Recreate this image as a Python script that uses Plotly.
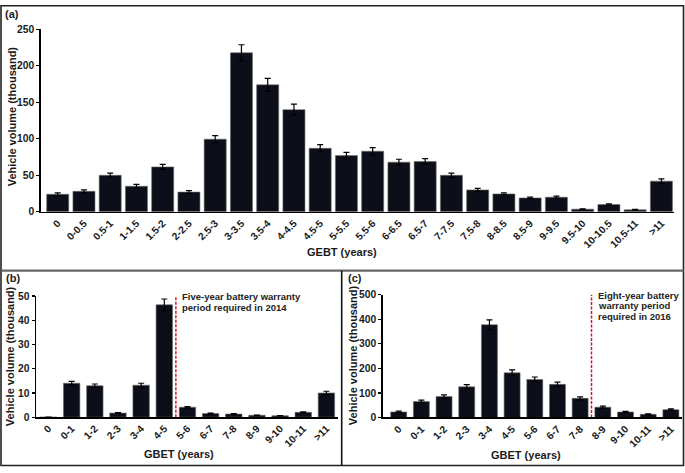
import plotly.graph_objects as go

# ---------------- data ----------------
cats_a = ["0", "0-0.5", "0.5-1", "1-1.5", "1.5-2", "2-2.5", "2.5-3", "3-3.5", "3.5-4",
          "4-4.5", "4.5-5", "5-5.5", "5.5-6", "6-6.5", "6.5-7", "7-7.5", "7.5-8",
          "8-8.5", "8.5-9", "9-9.5", "9.5-10", "10-10.5", "10.5-11", ">11"]
vals_a = [24, 28, 50, 35, 61.5, 27, 99.5, 218, 174, 140, 87, 77, 83, 68, 69, 50,
          30, 24.5, 19, 20, 3.6, 10, 2.7, 42]
err_a = [2, 2, 3, 2.5, 3.5, 2, 5, 11, 9, 7.5, 5, 4.5, 5, 4, 4, 3, 2, 1.5, 1, 1.5,
         0.5, 1, 0.5, 3]

cats_b = ["0", "0-1", "1-2", "2-3", "3-4", "4-5", "5-6", "6-7", "7-8", "8-9", "9-10",
          "10-11", ">11"]
vals_b = [0, 14, 13, 1.7, 13.2, 46.4, 4.1, 1.5, 1.3, 0.8, 0.6, 2, 10]
err_b = [0, 0.8, 0.7, 0.2, 0.8, 2.4, 0.3, 0.15, 0.15, 0.1, 0.1, 0.2, 0.7]

cats_c = ["0", "0-1", "1-2", "2-3", "3-4", "4-5", "5-6", "6-7", "7-8", "8-9", "9-10",
          "10-11", ">11"]
vals_c = [22.5, 65, 85, 125, 378, 182, 155, 135, 78, 42, 22.5, 13, 32]
err_c = [3, 6, 7, 9, 20, 12, 10, 9, 6, 4, 2, 1.5, 3]

note_b = ["Five-year battery warranty", "period required in 2014"]
note_c = ["Eight-year battery", "warranty period", "required in 2016"]

# ---------------- layout helpers ----------------
W, H = 685, 473


def px(x):
    return x / W


def py(y):
    return 1 - y / H


BAR = "#0c0f1a"
FONT = "Liberation Sans, Arial, sans-serif"
TXT = "#1a1a1a"

fig = go.Figure()


def add_bars(cats, vals, errs, xa, ya, width):
    fig.add_trace(go.Bar(
        x=list(range(len(cats))), y=vals, width=width,
        marker=dict(color=BAR, line=dict(color="#6b6b6b", width=0.6)),
        error_y=dict(type="data", array=errs, visible=True, color="#000000",
                     thickness=1.2, width=3),
        xaxis=xa, yaxis=ya, showlegend=False, hoverinfo="skip"))


add_bars(cats_a, vals_a, err_a, "x", "y", 0.84)
add_bars(cats_b, vals_b, err_b, "x2", "y2", 0.71)
add_bars(cats_c, vals_c, err_c, "x3", "y3", 0.705)

tickfont = dict(family=FONT, size=10.3, color=TXT, weight="bold")
xcommon = dict(showgrid=False, zeroline=False, showline=True, linecolor="#000000",
               linewidth=1.5, ticks="", tickangle=-45, tickfont=tickfont,
               tickmode="array", fixedrange=True)
ycommon = dict(showgrid=False, zeroline=False, showline=True, linecolor="#000000",
               linewidth=1.5, ticks="outside", ticklen=3, tickwidth=1.2,
               tickcolor="#000000", tickfont=tickfont, fixedrange=True)

fig.update_layout(
    width=W, height=H,
    margin=dict(l=0, r=0, t=0, b=0),
    paper_bgcolor="white", plot_bgcolor="white",
    font=dict(family=FONT, color=TXT),
    hovermode=False,
    xaxis=dict(xcommon, domain=[px(40.7), px(674)], range=[-0.648, 23.48],
               tickvals=list(range(len(cats_a))), ticktext=cats_a, anchor="y"),
    yaxis=dict(ycommon, domain=[py(211.7), py(25)], range=[0, 250],
               tickvals=[0, 50, 100, 150, 200, 250], anchor="x"),
    xaxis2=dict(xcommon, domain=[px(36), px(338)], range=[-0.54, 12.5],
                tickvals=list(range(len(cats_b))), ticktext=cats_b, anchor="y2"),
    yaxis2=dict(ycommon, domain=[py(422), py(298)], range=[0, 50],
                tickvals=[0, 10, 20, 30, 40, 50], anchor="x2"),
    xaxis3=dict(xcommon, domain=[px(382.7), px(682)], range=[-0.705, 12.49],
                tickvals=list(range(len(cats_c))), ticktext=cats_c, anchor="y3"),
    yaxis3=dict(ycommon, domain=[py(422.3), py(296.7)], range=[0, 500],
                tickvals=[0, 100, 200, 300, 400, 500], anchor="x3"),
)

shapes = [
    # outer frame
    dict(type="rect", xref="paper", yref="paper", x0=px(1), x1=px(683.5),
         y0=py(471.5), y1=py(0.8), line=dict(color="#222222", width=1.6)),
    # horizontal divider
    dict(type="line", xref="paper", yref="paper", x0=px(1), x1=px(683.5),
         y0=py(272), y1=py(272), line=dict(color="#666666", width=2.2)),
    # vertical divider
    dict(type="line", xref="paper", yref="paper", x0=px(341.7), x1=px(341.7),
         y0=py(272), y1=py(471.5), line=dict(color="#111111", width=1.6)),
    # warranty lines
    dict(type="line", xref="x2", yref="y2", x0=5.5, x1=5.5, y0=0, y1=52.2,
         line=dict(color="#e3101c", width=1.5, dash="3px,1.5px")),
    dict(type="line", xref="x3", yref="y3", x0=8.5, x1=8.5, y0=0, y1=513,
         line=dict(color="#e3101c", width=1.5, dash="3px,1.5px")),
]
fig.update_layout(shapes=shapes)

titlefont = dict(family=FONT, size=11, color=TXT, weight="bold")
notefont = dict(family=FONT, size=9.5, color="#222222", weight="bold")
ann = []


def text(x, y, s, font, xanchor="center", angle=0):
    ann.append(dict(xref="paper", yref="paper", x=px(x), y=py(y), text=s,
                    showarrow=False, font=font, xanchor=xanchor, yanchor="middle",
                    textangle=angle))


# panel labels
text(3, 9, "(a)", titlefont, "left")
text(4, 279, "(b)", titlefont, "left")
text(345.5, 279, "(c)", titlefont, "left")
# axis titles
text(342, 253, "GEBT (years)", titlefont)
text(179, 459.5, "GBET (years)", titlefont)
text(526, 461, "GBET (years)", titlefont)
text(12, 114, "Vehicle volume (thousand)", titlefont, angle=-90)
text(9.5, 360, "Vehicle volume (thousand)", titlefont, angle=-90)
text(352.5, 359, "Vehicle volume (thousand)", titlefont, angle=-90)
# warranty notes
for i, line in enumerate(note_b):
    text(180.5, 298.3 + 11 * i, line, notefont, "left")
for i, line in enumerate(note_c):
    text(595.5, 297 + 11 * i, line, notefont, "left")

fig.update_layout(annotations=ann)

fig.write_html(
    "out.html",
    config={"displayModeBar": False, "staticPlot": True},
    post_script="document.body.style.margin='0';document.body.style.padding='0';"
                "document.body.style.overflow='hidden';",
)
